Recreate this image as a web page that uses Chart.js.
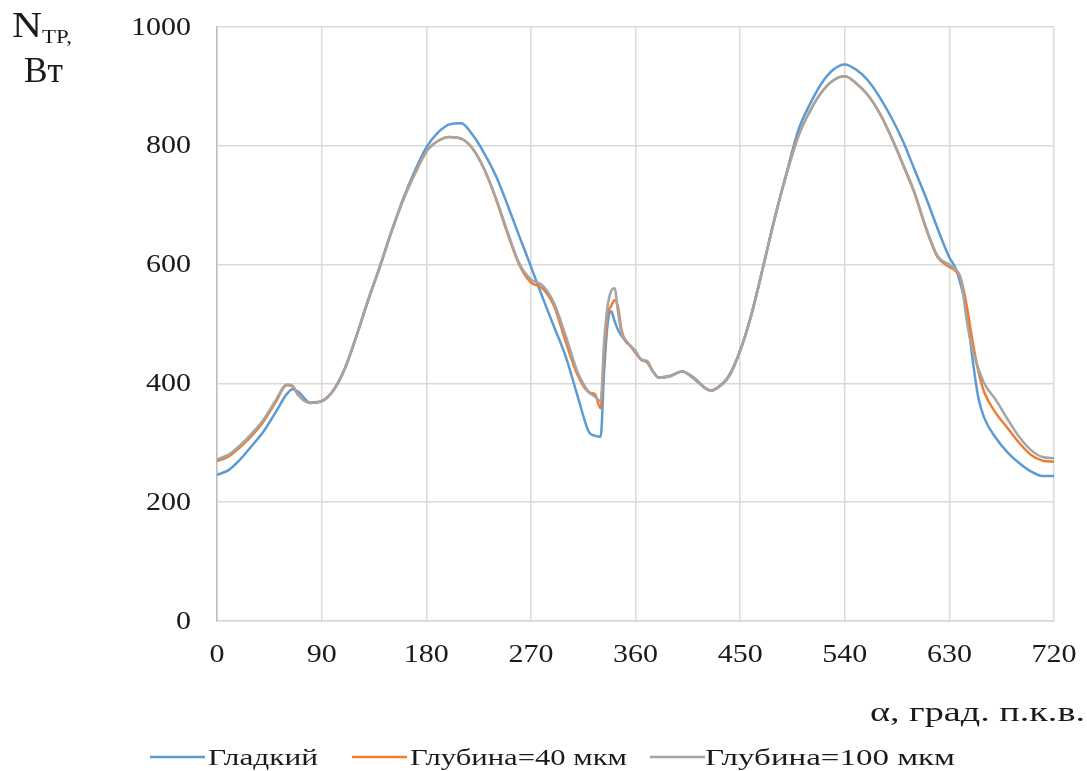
<!DOCTYPE html>
<html lang="ru">
<head>
  <meta charset="UTF-8" />
  <title>N тр</title>
  <script src="https://cdn.jsdelivr.net/npm/chart.js"></script>
  <style>
    * { box-sizing: border-box; margin: 0; padding: 0; }
    body { background: #fff; width: 1087px; height: 771px; overflow: hidden; }
    canvas { display: block; }
  </style>
</head>
<body>
  <canvas id="chart" width="1087" height="771"></canvas>

  <script>
    // угол, град. п.к.в.
    const angles = [0, 10, 20, 30, 40, 50, 60, 65, 70, 80, 90, 100, 110, 120, 130, 140, 150, 160, 170, 180,
      190, 200, 210, 220, 230, 240, 250, 260, 270, 280, 290, 300, 310, 320, 325, 330, 333, 336, 339, 342,
      345, 348, 352, 356, 360, 365, 370, 375, 380, 390, 400, 410, 420, 425, 430, 440, 450, 460, 470, 480,
      490, 500, 510, 520, 530, 540, 550, 560, 570, 580, 590, 600, 610, 620, 630, 635, 640, 645, 650, 655,
      660, 670, 680, 690, 700, 710, 720];

    // Гладкий
    const smooth = [246, 254, 272, 295, 319, 350, 382, 390, 386, 368, 370, 388, 425, 480, 540, 596, 655, 710, 757, 797,
      822, 836, 838, 818, 787, 749, 700, 648, 597, 545, 495, 445, 380, 318, 312, 310, 420, 500, 522, 505,
      490, 480, 470, 462, 452, 440, 436, 420, 410, 413, 420, 410, 392, 388, 392, 412, 455, 518, 598, 680,
      755, 826, 870, 905, 928, 937, 928, 910, 882, 848, 808, 760, 712, 660, 612, 595, 565, 520, 440, 375,
      342, 308, 284, 266, 252, 244, 244];

    // Глубина=40 мкм
    const depth40 = [269, 277, 293, 312, 336, 367, 397, 395, 380, 367, 370, 388, 425, 480, 540, 596, 655, 708, 752, 790,
      808, 815, 812, 795, 760, 710, 652, 600, 570, 560, 530, 470, 415, 385, 382, 358, 450, 515, 530, 540,
      528, 490, 470, 463, 452, 440, 436, 420, 410, 412, 420, 409, 392, 388, 392, 411, 455, 518, 598, 680,
      753, 816, 858, 890, 910, 917, 905, 885, 855, 815, 768, 720, 660, 612, 596, 590, 575, 530, 470, 420,
      385, 350, 325, 300, 280, 270, 268];

    // Глубина=100 мкм
    const depth100 = [272, 280, 296, 316, 339, 370, 398, 396, 380, 367, 370, 388, 425, 480, 540, 596, 655, 708, 752, 790,
      808, 815, 812, 795, 760, 712, 655, 602, 575, 565, 535, 480, 420, 385, 378, 370, 470, 530, 555, 560,
      520, 485, 472, 462, 455, 440, 438, 420, 410, 412, 420, 408, 392, 388, 392, 410, 455, 518, 598, 680,
      753, 816, 858, 890, 910, 917, 905, 885, 855, 815, 770, 722, 662, 614, 600, 592, 575, 505, 455, 425,
      400, 372, 340, 310, 288, 276, 274];

    const xTicks = [0, 90, 180, 270, 360, 450, 540, 630, 720];
    const yTicks = [0, 200, 400, 600, 800, 1000];

    const toPoints = (vals) => vals.map((v, i) => ({ x: angles[i], y: v }));

    const FONT = "'Liberation Serif', 'Times New Roman', serif";
    const INK = '#1a1a1a';

    // текст, растянутый по горизонтали (шрифт в оригинале шире)
    function wideText(ctx, text, x, y, size, sx, align) {
      ctx.save();
      ctx.font = size + 'px ' + FONT;
      ctx.textAlign = align;
      ctx.translate(x, y);
      ctx.scale(sx, 1);
      ctx.fillText(text, 0, 0);
      ctx.restore();
    }

    function fitText(ctx, text, x, y, size, width) {
      ctx.save();
      ctx.font = size + 'px ' + FONT;
      const sx = width / ctx.measureText(text).width;
      ctx.restore();
      wideText(ctx, text, x, y, size, sx, 'left');
    }

    // подписи делений, осей и легенда
    const extras = {
      id: 'extras',
      afterDraw(chart) {
        const ctx = chart.ctx;
        const xs = chart.scales.x, ys = chart.scales.y;
        ctx.save();
        ctx.fillStyle = INK;
        ctx.textBaseline = 'middle';

        ys.ticks.forEach(t => wideText(ctx, String(t.value), 191, ys.getPixelForValue(t.value) + 1, 25, 1.2, 'right'));
        xs.ticks.forEach(t => wideText(ctx, String(t.value), xs.getPixelForValue(t.value), 655, 25, 1.2, 'center'));

        ctx.textBaseline = 'alphabetic';
        // N_TP, Вт
        fitText(ctx, 'N', 12, 37, 35, 30);
        fitText(ctx, 'TP,', 42, 43, 19, 30);
        fitText(ctx, 'Вт', 24, 82, 35, 39);

        // α, град. п.к.в.
        fitText(ctx, 'α, град. п.к.в.', 870, 721, 27, 215);

        // легенда
        const marks = [150, 352, 650];
        const texts = [[208, 110], [410, 217], [705, 250]];
        const y = 757;
        chart.data.datasets.forEach((ds, i) => {
          ctx.strokeStyle = ds.borderColor;
          ctx.lineWidth = 2.5;
          ctx.beginPath();
          ctx.moveTo(marks[i], y);
          ctx.lineTo(marks[i] + 55, y);
          ctx.stroke();
          fitText(ctx, ds.label, texts[i][0], y + 8, 23, texts[i][1]);
        });
        ctx.restore();
      }
    };

    new Chart(document.getElementById('chart'), {
      type: 'line',
      data: {
        datasets: [
          { label: 'Гладкий', data: toPoints(smooth), borderColor: '#5B9BD5', order: 2 },
          { label: 'Глубина=40 мкм', data: toPoints(depth40), borderColor: '#ED7D31', order: 1 },
          { label: 'Глубина=100 мкм', data: toPoints(depth100), borderColor: '#A5A5A5', order: 0 }
        ]
      },
      options: {
        responsive: false,
        animation: false,
        layout: { padding: { top: 27, right: 33, left: 0, bottom: 0 } },
        elements: {
          point: { radius: 0 },
          line: { borderWidth: 2.5, cubicInterpolationMode: 'monotone', fill: false }
        },
        plugins: {
          legend: { display: false },
          tooltip: { enabled: false }
        },
        scales: {
          x: {
            type: 'linear',
            min: 0,
            max: 720,
            afterBuildTicks: (s) => { s.ticks = xTicks.map(v => ({ value: v })); },
            afterFit: (s) => { s.height = 150; },
            grid: { color: '#d9d9d9', lineWidth: 1.5, tickLength: 0 },
            border: { color: '#d9d9d9', width: 1.5 },
            ticks: { display: false }
          },
          y: {
            min: 0,
            max: 1000,
            afterBuildTicks: (s) => { s.ticks = yTicks.map(v => ({ value: v })); },
            afterFit: (s) => { s.width = 217; },
            grid: { color: '#d9d9d9', lineWidth: 1.5, tickLength: 0 },
            border: { color: '#bfbfbf', width: 1.5 },
            ticks: { display: false }
          }
        }
      },
      plugins: [extras]
    });
  </script>
</body>
</html>
